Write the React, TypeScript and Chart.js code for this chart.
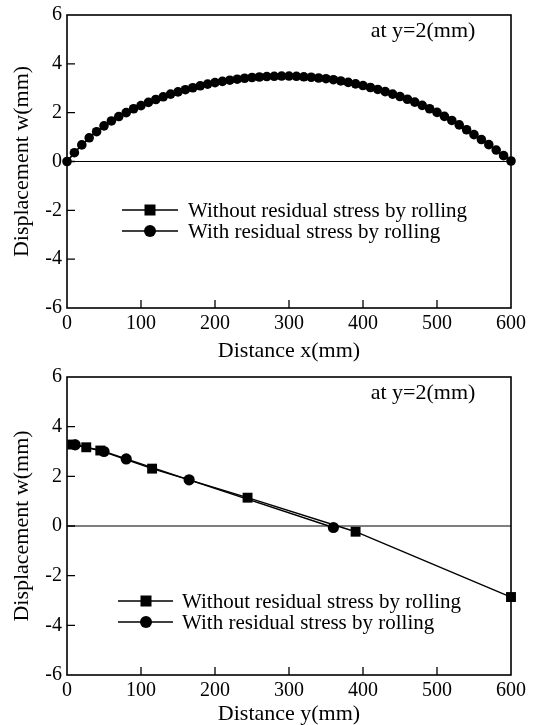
import React, { useEffect, useRef } from 'react';
import { Chart, registerables } from 'chart.js';

Chart.register(...registerables);

const FONT = "'Liberation Serif', 'Times New Roman', serif";

// ---------- data ----------
const xTicks = [0, 100, 200, 300, 400, 500, 600];
const yTicks = [-6, -4, -2, 0, 2, 4, 6];

const yTitle = 'Displacement w(mm)';
const topXTitle = 'Distance x(mm)';
const botXTitle = 'Distance y(mm)';
const annotationText = 'at y=2(mm)';
const legendLabels = ['Without residual stress by rolling', 'With residual stress by rolling'];

// Top chart: displacement along x at y=2 (both series coincide)
const topX = [
  0, 10, 20, 30, 40, 50, 60, 70, 80, 90, 100, 110, 120, 130, 140, 150, 160, 170, 180, 190,
  200, 210, 220, 230, 240, 250, 260, 270, 280, 290, 300, 310, 320, 330, 340, 350, 360, 370,
  380, 390, 400, 410, 420, 430, 440, 450, 460, 470, 480, 490, 500, 510, 520, 530, 540, 550,
  560, 570, 580, 590, 600,
];
const topW = [
  0, 0.36, 0.68, 0.97, 1.22, 1.46, 1.66, 1.84, 2.0, 2.16, 2.29, 2.42, 2.54, 2.65, 2.76, 2.85,
  2.94, 3.02, 3.1, 3.17, 3.23, 3.28, 3.33, 3.37, 3.41, 3.44, 3.46, 3.48, 3.49, 3.5, 3.5, 3.49,
  3.47, 3.45, 3.42, 3.39, 3.35, 3.3, 3.24, 3.18, 3.11, 3.03, 2.95, 2.86, 2.76, 2.66, 2.55, 2.43,
  2.3, 2.16, 2.01, 1.85, 1.68, 1.5, 1.3, 1.1, 0.9, 0.69, 0.47, 0.24, 0.02,
];

// Bottom chart: displacement along y
const botSquareX = [7, 26, 45, 115, 244, 390, 600];
const botSquareW = [3.28, 3.17, 3.04, 2.31, 1.14, -0.23, -2.86];
const botCircleX = [11, 50, 80, 165, 360];
const botCircleW = [3.27, 3.0, 2.7, 1.86, -0.06];

// ---------- helpers ----------
type Decor = {
  legendRows: number[];
  legendX0: number;
  legendX1: number;
  legendMX: number;
  legendTX: number;
  annX: number;
  annY: number;
};

function decorPlugin(d: Decor) {
  return {
    id: 'decor',
    beforeDatasetsDraw(chart: any) {
      const { ctx, chartArea } = chart;
      const y0 = chart.scales.y.getPixelForValue(0);
      ctx.save();
      ctx.strokeStyle = '#000';
      ctx.lineWidth = 1.2;
      ctx.beginPath();
      ctx.moveTo(chartArea.left, y0);
      ctx.lineTo(chartArea.right, y0);
      ctx.stroke();
      ctx.restore();
    },
    afterDraw(chart: any) {
      const { ctx, chartArea } = chart;
      const xs = chart.scales.x;
      const ys = chart.scales.y;
      ctx.save();
      ctx.strokeStyle = '#000';
      ctx.fillStyle = '#000';
      // frame
      ctx.lineWidth = 1.6;
      ctx.strokeRect(chartArea.left, chartArea.top, chartArea.right - chartArea.left, chartArea.bottom - chartArea.top);
      // inward tick marks
      ctx.lineWidth = 1.3;
      ctx.beginPath();
      xs.ticks.forEach((t: any) => {
        if (t.value <= xs.min || t.value >= xs.max) return;
        const px = xs.getPixelForValue(t.value);
        ctx.moveTo(px, chartArea.bottom);
        ctx.lineTo(px, chartArea.bottom - 8);
      });
      ys.ticks.forEach((t: any) => {
        if (t.value <= ys.min || t.value >= ys.max) return;
        const py = ys.getPixelForValue(t.value);
        ctx.moveTo(chartArea.left, py);
        ctx.lineTo(chartArea.left + 8, py);
      });
      ctx.stroke();
      // legend
      d.legendRows.forEach((ry, i) => {
        ctx.lineWidth = 1.3;
        ctx.beginPath();
        ctx.moveTo(d.legendX0, ry);
        ctx.lineTo(d.legendX1, ry);
        ctx.stroke();
        if (i === 0) {
          ctx.fillRect(d.legendMX - 5.5, ry - 5.5, 11, 11);
        } else {
          ctx.beginPath();
          ctx.arc(d.legendMX, ry, 6, 0, Math.PI * 2);
          ctx.fill();
        }
        ctx.font = `21px ${FONT}`;
        ctx.textAlign = 'left';
        ctx.textBaseline = 'middle';
        ctx.fillText(legendLabels[i], d.legendTX, ry + 1);
      });
      // annotation
      ctx.font = `22px ${FONT}`;
      ctx.textAlign = 'center';
      ctx.textBaseline = 'middle';
      ctx.fillText(annotationText, d.annX, d.annY);
      ctx.restore();
    },
  };
}

type Opts = {
  squareX: number[];
  squareW: number[];
  circleX: number[];
  circleW: number[];
  squareR: number;
  circleR: number;
  lineW: number;
  xTitle: string;
  padTop: number;
  xAxisH: number;
  xTickPad: number;
  xTitlePad: number;
  decor: Decor;
};

function buildConfig(o: Opts): any {
  const pts = (xs: number[], ws: number[]) => xs.map((x, i) => ({ x, y: ws[i] }));
  return {
    type: 'scatter',
    data: {
      datasets: [
        {
          label: legendLabels[0],
          data: pts(o.squareX, o.squareW),
          showLine: true,
          borderColor: '#000',
          backgroundColor: '#000',
          borderWidth: o.lineW,
          pointStyle: 'rect',
          pointRadius: o.squareR,
          pointBorderWidth: 0,
          clip: false,
        },
        {
          label: legendLabels[1],
          data: pts(o.circleX, o.circleW),
          showLine: true,
          borderColor: '#000',
          backgroundColor: '#000',
          borderWidth: o.lineW,
          pointStyle: 'circle',
          pointRadius: o.circleR,
          pointBorderWidth: 0,
          clip: false,
        },
      ],
    },
    options: {
      responsive: false,
      animation: false,
      events: [],
      layout: { padding: { top: o.padTop, right: 35, left: 0, bottom: 0 } },
      plugins: { legend: { display: false }, tooltip: { enabled: false } },
      scales: {
        x: {
          type: 'linear',
          min: 0,
          max: 600,
          afterBuildTicks: (s: any) => {
            s.ticks = xTicks.map((v) => ({ value: v }));
          },
          afterFit: (s: any) => {
            s.height = o.xAxisH;
          },
          grid: { display: false, drawTicks: false },
          border: { display: false },
          ticks: {
            color: '#000',
            font: { family: FONT, size: 20, lineHeight: 1 },
            padding: o.xTickPad,
            maxRotation: 0,
            autoSkip: false,
          },
          title: {
            display: true,
            text: o.xTitle,
            color: '#000',
            font: { family: FONT, size: 22, lineHeight: 1 },
            padding: { top: 0, bottom: o.xTitlePad },
          },
        },
        y: {
          type: 'linear',
          min: -6,
          max: 6,
          afterBuildTicks: (s: any) => {
            s.ticks = yTicks.map((v) => ({ value: v }));
          },
          afterFit: (s: any) => {
            s.width = 67;
          },
          grid: { display: false, drawTicks: false },
          border: { display: false },
          ticks: {
            color: '#000',
            font: { family: FONT, size: 20, lineHeight: 1 },
            padding: 5,
          },
          title: {
            display: true,
            text: yTitle,
            color: '#000',
            font: { family: FONT, size: 22, lineHeight: 1 },
            padding: { top: 11, bottom: 0 },
          },
        },
      },
    },
    plugins: [decorPlugin(o.decor)],
  };
}

function ChartCanvas(props: { make: () => any; width: number; height: number; top: number }) {
  const ref = useRef<HTMLCanvasElement>(null);
  useEffect(() => {
    const chart = new Chart(ref.current as HTMLCanvasElement, props.make());
    return () => chart.destroy();
  }, []);
  return (
    <canvas
      ref={ref}
      width={props.width}
      height={props.height}
      style={{ position: 'absolute', left: 0, top: props.top, width: props.width, height: props.height, display: 'block' }}
    />
  );
}

export default function App() {
  const makeTop = () =>
    buildConfig({
      squareX: topX,
      squareW: topW,
      circleX: topX,
      circleW: topW,
      squareR: 4.4,
      circleR: 4.8,
      lineW: 1.3,
      xTitle: topXTitle,
      padTop: 10,
      xAxisH: 54,
      xTickPad: 6,
      xTitlePad: 0,
      decor: { legendRows: [210, 231], legendX0: 122, legendX1: 178, legendMX: 150, legendTX: 188, annX: 423, annY: 31 },
    });
  const makeBottom = () =>
    buildConfig({
      squareX: botSquareX,
      squareW: botSquareW,
      circleX: botCircleX,
      circleW: botCircleW,
      squareR: 7,
      circleR: 5.6,
      lineW: 1.4,
      xTitle: botXTitle,
      padTop: 13,
      xAxisH: 50,
      xTickPad: 6,
      xTitlePad: 0,
      decor: { legendRows: [239, 260], legendX0: 118, legendX1: 173, legendMX: 146, legendTX: 182, annX: 423, annY: 31 },
    });
  return (
    <div style={{ position: 'absolute', left: 0, top: 0, width: 546, height: 725, background: '#fff' }}>
      <ChartCanvas make={makeTop} width={546} height={362} top={0} />
      <ChartCanvas make={makeBottom} width={546} height={363} top={362} />
    </div>
  );
}
